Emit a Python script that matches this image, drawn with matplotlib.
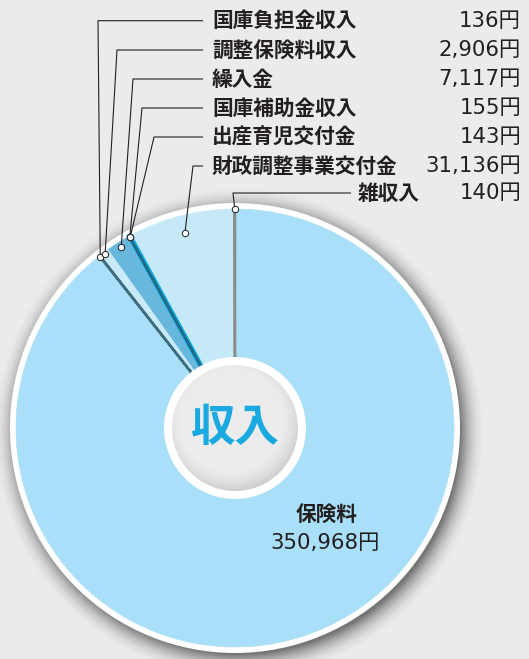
import matplotlib.pyplot as plt
import numpy as np
from matplotlib.patches import Circle

plt.rcParams['font.family'] = ['Noto Sans CJK JP', 'DejaVu Sans']

# slices, counterclockwise from 12 o'clock
labels = ['雑収入', '財政調整事業交付金', '出産育児交付金', '国庫補助金収入',
          '繰入金', '調整保険料収入', '国庫負担金収入', '保険料']
values = [140, 31136, 143, 155, 7117, 2906, 136, 350968]
value_text = ['140円', '31,136円', '143円', '155円', '7,117円', '2,906円', '136円', '350,968円']
colors = ['#8a8a8a', '#c6e9f8', '#14b3ea', '#1c6c8a', '#67b8dc', '#c9eaf8', '#3f6e80', '#a9dff8']

# callouts at the top, listed top to bottom
callouts = ['国庫負担金収入', '調整保険料収入', '繰入金', '国庫補助金収入',
            '出産育児交付金', '財政調整事業交付金', '雑収入']

# layout of the callouts in pixels (from top-left)
callout_y = [20.7, 50, 79, 108, 137, 166, 193]
elbow_x = [98, 117, 133, 142, 154, 193, 233]
text_x = [212, 212, 212, 212, 212, 212, 358]
line_end_x = [203, 203, 203, 203, 203, 203, 351]
point_r = [0.995, 0.99, 0.975, 0.995, 0.995, 0.92, 1.0]

W, H = 529, 659
fig = plt.figure(figsize=(W / 100, H / 100), dpi=100)
fig.patch.set_facecolor('#ebebed')
ax = fig.add_axes([0, 0, 1, 1])
ax.set_facecolor('#ebebed')

cx, cy, R = 235, H - 428, 219
ink = '#231f20'
num_font = ['DejaVu Sans', 'Noto Sans CJK JP']

# soft drop shadow round the pie
yy, xx = np.mgrid[0:H, 0:W]
d = np.hypot(xx + 0.5 - (cx + 4), yy + 0.5 - (cy - 5))
alpha = np.clip(1 - (d - (R + 2)) / 26, 0, 1) ** 2 * 0.5
shadow = np.zeros((H, W, 4))
shadow[..., 3] = alpha
ax.imshow(shadow, extent=(0, W, 0, H), origin='lower', zorder=0, interpolation='bilinear')

ax.add_patch(Circle((cx, cy), R + 6, fc='white', ec='none', zorder=1))

wedges, _ = ax.pie(values, colors=colors, startangle=90, counterclock=True,
                   radius=R, center=(cx, cy), frame=True,
                   wedgeprops=dict(linewidth=0.4))
for w, v, c in zip(wedges, values, colors):
    w.set_edgecolor(c)
    w.set_zorder(2)
    if v < 1000:
        w.set_linewidth(1.8)
        w.set_zorder(3.2)
wedges[labels.index('出産育児交付金')].set_linewidth(3.4)
wedges[labels.index('出産育児交付金')].set_zorder(3.0)

# centre disc
ax.add_patch(Circle((cx, cy), 71, fc='white', ec='none', zorder=4))
g = np.linspace(-1, 1, 300)
gx, gy = np.meshgrid(g, g)
rr = np.hypot(gx + 0.06, gy - 0.12)
shade = 0.925 - 0.16 * np.clip((rr - 0.8) / 0.4, 0, 1) ** 1.5
inner = Circle((cx, cy), 63, fc='none', ec='none', zorder=5)
ax.add_patch(inner)
im = ax.imshow(shade, cmap='gray', vmin=0, vmax=1, origin='lower',
               extent=(cx - 63, cx + 63, cy - 63, cy + 63), zorder=5,
               interpolation='bilinear')
im.set_clip_path(inner)
ax.text(cx, cy, '収入', color='#1aa9e1', fontsize=32, fontweight='bold',
        ha='center', va='center', zorder=6)

# callouts
for i, name in enumerate(callouts):
    k = labels.index(name)
    w = wedges[k]
    mid = np.deg2rad((w.theta1 + w.theta2) / 2)
    px = cx + point_r[i] * R * np.cos(mid)
    py = cy + point_r[i] * R * np.sin(mid)
    ty = H - callout_y[i]
    ax.plot([line_end_x[i], elbow_x[i], px], [ty, ty, py], color=ink, lw=0.8,
            zorder=7, solid_capstyle='butt')
    ax.plot(px, py, 'o', ms=4.6, mfc='white', mec=ink, mew=0.7, zorder=8)
    ax.text(text_x[i], ty, name, fontsize=14.9, fontweight='bold', color=ink,
            ha='left', va='center', zorder=8)
    ax.text(521, ty, value_text[k], fontsize=15.3, color=ink, family=num_font,
            ha='right', va='center', zorder=8)

# main slice label
k = labels.index('保険料')
ax.text(327, H - 514, labels[k], fontsize=14.9, fontweight='bold', color=ink,
        ha='center', va='center', zorder=8)
ax.text(325, H - 543, value_text[k], fontsize=15.3, color=ink, family=num_font,
        ha='center', va='center', zorder=8)

ax.set_xlim(0, W)
ax.set_ylim(0, H)
ax.set_aspect('auto')
ax.axis('off')

plt.savefig('out.png', dpi=100, facecolor=fig.get_facecolor())
